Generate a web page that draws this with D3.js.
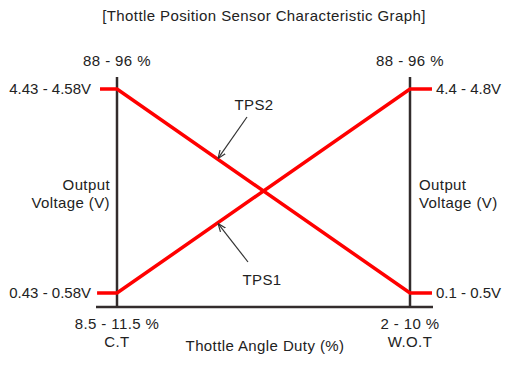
<!DOCTYPE html>
<html>
<head>
<meta charset="utf-8">
<script src="https://cdn.jsdelivr.net/npm/d3@7"></script>
<style>
  body { margin: 0; background: #fff; }
  text { font-family: "Liberation Sans", Arial, sans-serif; fill: #222; font-size: 15px; letter-spacing: 0.4px; }
</style>
</head>
<body>
<div id="chart"></div>
<script>
// Throttle positions (0 = C.T, 1 = W.O.T), stubs extend past the axes
var positions = ["C.T", "W.O.T"];
var dutyLabels = ["8.5 - 11.5 %", "2 - 10 %"];
var topDutyLabels = ["88 - 96 %", "88 - 96 %"];
var leftVoltLabels = ["4.43 - 4.58V", "0.43 - 0.58V"];
var rightVoltLabels = ["4.4 - 4.8V", "0.1 - 0.5V"];

// normalized output level: 0 = low, 1 = high
var tps1 = [
  {x: -0.068, y: 0}, {x: 0, y: 0}, {x: 1, y: 1}, {x: 1.075, y: 1}
];
var tps2 = [
  {x: -0.058, y: 1}, {x: 0, y: 1}, {x: 1, y: 0}, {x: 1.075, y: 0}
];

var width = 517, height = 367;

var svg = d3.select("#chart").append("svg")
    .attr("width", width)
    .attr("height", height);

var x = d3.scaleLinear().domain([0, 1]).range([117, 410]);
var y = d3.scaleLinear().domain([0, 1]).range([293, 89]);

// Title
svg.append("text")
    .attr("x", 264).attr("y", 16)
    .attr("dy", "0.35em")
    .attr("text-anchor", "middle")
    .text("[Thottle Position Sensor Characteristic Graph]");

// Axis lines
var axisColor = "#332c2c";
[0, 1].forEach(function(p) {
  svg.append("line")
      .attr("x1", x(p)).attr("x2", x(p))
      .attr("y1", 77).attr("y2", 308)
      .attr("stroke", axisColor)
      .attr("stroke-width", 2.5);
});
svg.append("line")
    .attr("x1", 96).attr("x2", 433)
    .attr("y1", 307).attr("y2", 307)
    .attr("stroke", axisColor)
    .attr("stroke-width", 2.5);

// Series lines
var line = d3.line()
    .x(function(d) { return x(d.x); })
    .y(function(d) { return y(d.y); });

[tps1, tps2].forEach(function(s) {
  svg.append("path")
      .datum(s)
      .attr("d", line)
      .attr("fill", "none")
      .attr("stroke", "#ff0000")
      .attr("stroke-width", 3.5);
});

// Arrow marker
svg.append("defs").append("marker")
    .attr("id", "arrow")
    .attr("viewBox", "0 0 10 10")
    .attr("refX", 10).attr("refY", 5)
    .attr("markerWidth", 8).attr("markerHeight", 8)
    .attr("markerUnits", "userSpaceOnUse")
    .attr("orient", "auto")
    .append("path")
    .attr("d", "M0,1L10,5L0,9")
    .attr("fill", "none")
    .attr("stroke", "#333")
    .attr("stroke-width", 1.5);

function labelPoint(series, t) {
  // point on the sloped segment at fraction t
  var a = series[1], b = series[2];
  return [x(a.x + (b.x - a.x) * t), y(a.y + (b.y - a.y) * t)];
}

var p2 = labelPoint(tps2, 0.345);
svg.append("line")
    .attr("x1", 247).attr("y1", 117)
    .attr("x2", p2[0]).attr("y2", p2[1] - 1)
    .attr("stroke", "#333").attr("stroke-width", 1.2)
    .attr("marker-end", "url(#arrow)");
svg.append("text")
    .attr("x", 254).attr("y", 105)
    .attr("dy", "0.35em")
    .attr("text-anchor", "middle")
    .text("TPS2");

var p1 = labelPoint(tps1, 0.345);
svg.append("line")
    .attr("x1", 248).attr("y1", 262)
    .attr("x2", p1[0]).attr("y2", p1[1] + 1)
    .attr("stroke", "#333").attr("stroke-width", 1.2)
    .attr("marker-end", "url(#arrow)");
svg.append("text")
    .attr("x", 262).attr("y", 280)
    .attr("dy", "0.35em")
    .attr("text-anchor", "middle")
    .text("TPS1");

// Top duty labels
topDutyLabels.forEach(function(t, i) {
  svg.append("text")
      .attr("x", x(i)).attr("y", 60.5)
      .attr("dy", "0.35em")
      .attr("text-anchor", "middle")
      .text(t);
});

// Bottom duty labels and positions
dutyLabels.forEach(function(t, i) {
  svg.append("text")
      .attr("x", x(i)).attr("y", 324)
      .attr("dy", "0.35em")
      .attr("text-anchor", "middle")
      .text(t);
  svg.append("text")
      .attr("x", x(i)).attr("y", 342)
      .attr("dy", "0.35em")
      .attr("text-anchor", "middle")
      .text(positions[i]);
});

svg.append("text")
    .attr("x", 265).attr("y", 346)
    .attr("dy", "0.35em")
    .attr("text-anchor", "middle")
    .text("Thottle Angle Duty (%)");

// Voltage labels
leftVoltLabels.forEach(function(t, i) {
  svg.append("text")
      .attr("x", 91).attr("y", y(1 - i))
      .attr("dy", "0.35em")
      .attr("text-anchor", "end")
      .style("letter-spacing", "0px")
      .text(t);
});
rightVoltLabels.forEach(function(t, i) {
  svg.append("text")
      .attr("x", 436).attr("y", y(1 - i))
      .attr("dy", "0.35em")
      .attr("text-anchor", "start")
      .style("letter-spacing", "0px")
      .text(t);
});

// Output Voltage (V) labels
[["end", 110], ["start", 419]].forEach(function(s) {
  var t = svg.append("text")
      .attr("x", s[1]).attr("y", 184.5)
      .attr("dy", "0.35em")
      .attr("text-anchor", s[0]);
  t.append("tspan").attr("x", s[1]).text("Output");
  t.append("tspan").attr("x", s[1]).attr("dy", "18px").text("Voltage (V)");
});
</script>
</body>
</html>
